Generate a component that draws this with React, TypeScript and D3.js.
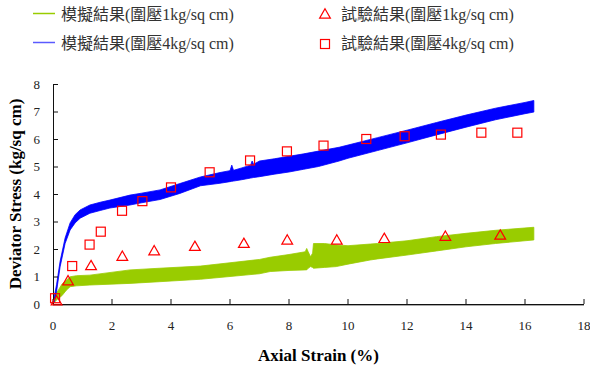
import React, { useEffect, useRef } from 'react';
import * as d3 from 'd3';

// simulation bands (upper / lower edge of the oscillating output)
const simStrain4 = [0, 0.05, 0.12, 0.24, 0.41, 0.58, 0.75, 0.92, 1.25, 1.6, 1.93, 2.61, 3.0, 3.63, 4.3, 5.0, 5.66, 6.0, 6.06, 6.12, 6.4, 6.7, 6.75, 6.8, 7.0, 7.5, 8.0, 8.5, 9.0, 9.7, 10, 11, 12, 13, 14, 15, 16, 16.3];
const simUpper4 = [0.05, 0.3, 0.7, 1.55, 2.4, 2.95, 3.25, 3.42, 3.6, 3.7, 3.78, 3.96, 4.03, 4.15, 4.38, 4.62, 4.78, 4.85, 5.05, 4.86, 4.95, 5.05, 5.2, 5.08, 5.2, 5.28, 5.37, 5.46, 5.56, 5.7, 5.78, 6.05, 6.32, 6.6, 6.87, 7.12, 7.33, 7.4];
const simLower4 = [0, 0.1, 0.45, 1.35, 2.2, 2.69, 2.95, 3.12, 3.3, 3.4, 3.49, 3.6, 3.68, 3.8, 4.02, 4.3, 4.39, 4.45, 4.46, 4.47, 4.52, 4.58, 4.59, 4.6, 4.63, 4.72, 4.8, 4.9, 5.0, 5.2, 5.3, 5.58, 5.86, 6.15, 6.43, 6.7, 6.92, 6.98];

const simStrain1 = [0, 0.12, 0.3, 0.46, 0.58, 0.8, 1.25, 2.61, 3.6, 5, 6, 7, 7.36, 8, 8.55, 8.6, 8.65, 8.73, 8.8, 8.83, 9.2, 9.6, 10, 10.75, 11, 12, 13, 14, 15, 16.3];
const simUpper1 = [0.02, 0.39, 0.72, 0.87, 0.99, 1.03, 1.05, 1.24, 1.3, 1.38, 1.5, 1.62, 1.7, 1.8, 1.9, 2.02, 1.9, 1.72, 1.85, 2.2, 2.2, 2.15, 2.12, 2.18, 2.2, 2.3, 2.45, 2.57, 2.68, 2.79];
const simLower1 = [0, 0.15, 0.3, 0.51, 0.63, 0.66, 0.69, 0.75, 0.81, 0.9, 1.0, 1.1, 1.18, 1.22, 1.24, 1.24, 1.3, 1.36, 1.33, 1.3, 1.33, 1.36, 1.45, 1.6, 1.64, 1.78, 1.93, 2.08, 2.2, 2.33];

// test results
const testStrain1 = [0.12, 0.51, 1.29, 2.35, 3.43, 4.81, 6.47, 7.94, 9.62, 11.23, 13.3, 15.16];
const testStress1 = [0.08, 0.81, 1.36, 1.7, 1.9, 2.06, 2.17, 2.29, 2.29, 2.35, 2.43, 2.47];
const testStrain4 = [0.07, 0.65, 1.24, 1.62, 2.34, 3.03, 4.0, 5.31, 6.68, 7.93, 9.17, 10.62, 11.92, 13.15, 14.52, 15.74];
const testStress4 = [0.21, 1.38, 2.16, 2.63, 3.39, 3.74, 4.24, 4.79, 5.22, 5.55, 5.76, 6.0, 6.1, 6.16, 6.23, 6.23];

const xTicks = [0, 2, 4, 6, 8, 10, 12, 14, 16, 18];
const yTicks = [0, 1, 2, 3, 4, 5, 6, 7, 8];

const legendLabels = ['模擬結果(圍壓1kg/sq cm)', '模擬結果(圍壓4kg/sq cm)', '試驗結果(圍壓1kg/sq cm)', '試驗結果(圍壓4kg/sq cm)'];

const GREEN = '#99cc00';
const BLUE = '#0000ff';
const RED = '#ff0000';
const FONT = "'Liberation Serif', Tinos, 'Times New Roman', 'DejaVu Serif', 'Noto Sans CJK TC', serif";

const App = () => {
  const ref = useRef<SVGSVGElement>(null);

  useEffect(() => {
    const svg = d3.select(ref.current);
    svg.selectAll('*').remove();

    const x = d3.scaleLinear().domain([0, 18]).range([53, 584]);
    const y = d3.scaleLinear().domain([0, 8]).range([304, 84]);

    // bands
    const band = (strain, upper, lower, color) => {
      const rows = strain.map((s, i) => ({ s, u: upper[i], l: lower[i] }));
      svg.append('path')
        .datum(rows)
        .attr('fill', color)
        .attr('stroke', color)
        .attr('stroke-width', 0.8)
        .attr('d', d3.area<any>()
          .x(d => x(d.s))
          .y0(d => y(d.l))
          .y1(d => y(d.u)));
    };
    band(simStrain1, simUpper1, simLower1, GREEN);
    band(simStrain4, simUpper4, simLower4, BLUE);

    // axes
    const axisG = svg.append('g').attr('font-family', FONT).attr('font-size', 13).attr('fill', '#222');
    axisG.append('line').attr('x1', x(0)).attr('x2', x(18)).attr('y1', y(0) + 1.5).attr('y2', y(0) + 1.5).attr('stroke', '#aaa');
    axisG.append('line').attr('x1', x(0)).attr('x2', x(18)).attr('y1', y(0) + 0.5).attr('y2', y(0) + 0.5).attr('stroke', '#111');
    axisG.append('line').attr('x1', x(0) + 0.5).attr('x2', x(0) + 0.5).attr('y1', y(8)).attr('y2', y(0)).attr('stroke', '#111');

    xTicks.forEach(t => {
      axisG.append('line').attr('x1', x(t)).attr('x2', x(t)).attr('y1', y(0)).attr('y2', y(0) - 5).attr('stroke', '#111');
      axisG.append('text').attr('x', x(t)).attr('y', 330).attr('text-anchor', 'middle').text(t);
    });
    yTicks.forEach(t => {
      axisG.append('line').attr('x1', x(0)).attr('x2', x(0) + 5).attr('y1', y(t) + 0.5).attr('y2', y(t) + 0.5).attr('stroke', '#111');
      axisG.append('text').attr('x', 40).attr('y', y(t) + 4.5).attr('text-anchor', 'end').text(t);
    });

    svg.append('text')
      .attr('x', (x(0) + x(18)) / 2).attr('y', 361)
      .attr('text-anchor', 'middle')
      .attr('font-family', FONT).attr('font-weight', 'bold').attr('font-size', 17)
      .text('Axial Strain (%)');
    svg.append('text')
      .attr('transform', `translate(21, ${(y(0) + y(8)) / 2}) rotate(-90)`)
      .attr('text-anchor', 'middle')
      .attr('font-family', FONT).attr('font-weight', 'bold').attr('font-size', 17)
      .text('Deviator Stress (kg/sq cm)');

    // test markers
    const tri = d3.symbol().type(d3.symbolTriangle).size(50);
    testStrain1.forEach((s, i) => {
      svg.append('path').attr('d', tri()).attr('transform', `translate(${x(s)},${y(testStress1[i])})`)
        .attr('fill', 'none').attr('stroke', RED).attr('stroke-width', 1.2);
    });
    testStrain4.forEach((s, i) => {
      svg.append('rect').attr('x', x(s) - 4.5).attr('y', y(testStress4[i]) - 4.5).attr('width', 9).attr('height', 9)
        .attr('fill', 'none').attr('stroke', RED).attr('stroke-width', 1.2);
    });

    // legend
    const lg = svg.append('g').attr('font-family', FONT).attr('font-size', 16).attr('fill', '#333');
    [GREEN, '#5a5aff'].forEach((c, i) => {
      const ly = 13.5 + i * 29;
      lg.append('line').attr('x1', 33).attr('x2', 55).attr('y1', ly).attr('y2', ly).attr('stroke', c).attr('stroke-width', 1.5);
      lg.append('text').attr('x', 61).attr('y', ly + 6).text(legendLabels[i]);
    });
    lg.append('path').attr('d', tri()).attr('transform', 'translate(325,15)')
      .attr('fill', 'none').attr('stroke', RED).attr('stroke-width', 1.2);
    lg.append('rect').attr('x', 320.5).attr('y', 39.5).attr('width', 9).attr('height', 9)
      .attr('fill', 'none').attr('stroke', RED).attr('stroke-width', 1.2);
    [2, 3].forEach((k, i) => {
      lg.append('text').attr('x', 341).attr('y', 13.5 + i * 29 + 6).text(legendLabels[k]);
    });
  }, []);

  return (
    <svg ref={ref} width={590} height={367} style={{ position: 'absolute', left: 0, top: 0, background: '#fff' }}></svg>
  );
};

export default App;
